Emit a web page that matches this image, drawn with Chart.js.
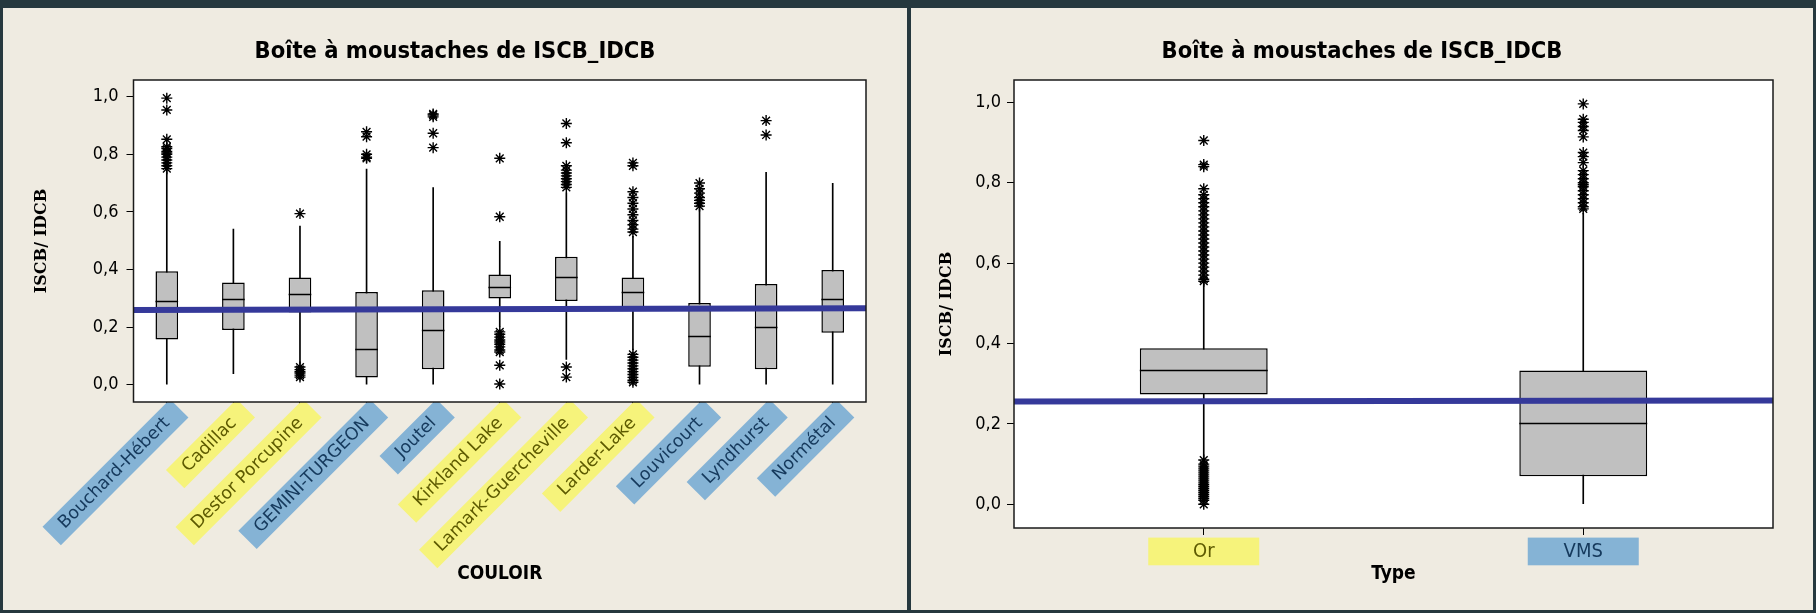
<!DOCTYPE html>
<html>
<head>
<meta charset="utf-8">
<script src="https://cdn.jsdelivr.net/npm/chart.js@4.4.0/dist/chart.umd.min.js"></script>
<style>
  html, body { margin: 0; padding: 0; }
  body { width: 1816px; height: 613px; background: #26383e; position: relative; overflow: hidden; }
  .panel { position: absolute; top: 8px; height: 602px; background: #efebe1; }
  #panelCouloir { left: 3px; width: 904px; }
  #panelType { left: 911px; width: 902px; }
  canvas { display: block; }
</style>
</head>
<body>
<div class="panel" id="panelCouloir"><canvas id="couloirChart" width="904" height="602"></canvas></div>
<div class="panel" id="panelType"><canvas id="typeChart" width="902" height="602"></canvas></div>
<script>
// --- left chart: ISCB/IDCB by couloir ---
const couloirs = ['Bouchard-Hébert', 'Cadillac', 'Destor Porcupine', 'GEMINI-TURGEON', 'Joutel',
  'Kirkland Lake', 'Lamark-Guercheville', 'Larder-Lake', 'Louvicourt', 'Lyndhurst', 'Normétal'];
const couloirType = ['VMS', 'Or', 'Or', 'VMS', 'VMS', 'Or', 'Or', 'Or', 'VMS', 'VMS', 'VMS'];
const couloirLow = [0.0, 0.038, 0.073, 0.0, 0.0, 0.20, 0.087, 0.12, 0.0, 0.0, 0.0];
const couloirQ1 = [0.157, 0.190, 0.250, 0.025, 0.053, 0.299, 0.290, 0.262, 0.062, 0.053, 0.180];
const couloirMedian = [0.290, 0.296, 0.316, 0.125, 0.191, 0.339, 0.372, 0.322, 0.169, 0.200, 0.296];
const couloirQ3 = [0.394, 0.355, 0.372, 0.322, 0.328, 0.382, 0.444, 0.372, 0.283, 0.349, 0.398];
const couloirHigh = [0.74, 0.54, 0.551, 0.749, 0.684, 0.498, 0.665, 0.515, 0.61, 0.737, 0.699];
const couloirOutliers = [
  [0.75, 0.76, 0.77, 0.78, 0.79, 0.80, 0.805, 0.81, 0.82, 0.826, 0.852, 0.954, 0.995],
  [],
  [0.594, 0.061, 0.052, 0.045, 0.04, 0.033, 0.026],
  [0.786, 0.79, 0.80, 0.861, 0.878],
  [0.823, 0.873, 0.93, 0.936, 0.94],
  [0.786, 0.583, 0.183, 0.175, 0.165, 0.155, 0.148, 0.14, 0.131, 0.12, 0.113, 0.067, 0.002],
  [0.907, 0.84, 0.76, 0.745, 0.735, 0.725, 0.715, 0.705, 0.695, 0.685, 0.061, 0.026],
  [0.77, 0.76, 0.67, 0.65, 0.63, 0.61, 0.59, 0.57, 0.555, 0.54, 0.53,
   0.105, 0.095, 0.085, 0.075, 0.065, 0.055, 0.045, 0.035, 0.025, 0.015, 0.008],
  [0.70, 0.68, 0.665, 0.65, 0.64, 0.63, 0.62],
  [0.917, 0.867],
  []
];
const seuilCouloir = [0.259, 0.265]; // blue reference line, left end / right end

// --- right chart: ISCB/IDCB by type ---
const types = ['Or', 'VMS'];
const typeLow = [0.114, 0.0];
const typeQ1 = [0.273, 0.070];
const typeMedian = [0.333, 0.203];
const typeQ3 = [0.388, 0.333];
const typeHigh = [0.549, 0.724];
const typeOutliers = [
  [0.905, 0.845, 0.84, 0.785, 0.77, 0.76, 0.75, 0.74, 0.73, 0.72, 0.71, 0.70, 0.69, 0.68, 0.67,
   0.66, 0.65, 0.64, 0.63, 0.62, 0.61, 0.60, 0.59, 0.58, 0.57, 0.56, 0.555,
   0.11, 0.10, 0.095, 0.09, 0.085, 0.08, 0.075, 0.07, 0.065, 0.06, 0.055, 0.05, 0.045, 0.04,
   0.035, 0.03, 0.025, 0.02, 0.015, 0.01, 0.0],
  [0.996, 0.958, 0.95, 0.94, 0.93, 0.914, 0.875, 0.865, 0.85, 0.83, 0.82, 0.81, 0.80, 0.795,
   0.79, 0.78, 0.77, 0.76, 0.75, 0.74, 0.735]
];
const seuilType = [0.2557, 0.258];

const yTicks = [0, 0.2, 0.4, 0.6, 0.8, 1.0];

const FONT = '"DejaVu Sans Condensed", "DejaVu Sans", sans-serif';
const typeColors = {
  Or: { bg: '#f6f37b', text: '#5d5a00' },
  VMS: { bg: '#85b3d5', text: '#15395c' }
};

function outlierPoints(labels, outliers) {
  const pts = [];
  outliers.forEach((list, i) => list.forEach(v => pts.push({ x: labels[i], y: v })));
  return pts;
}

// white plot area, label boxes, medians, blue line and frame
const boxPlotExtras = {
  id: 'boxPlotExtras',
  beforeDraw(chart, args, opts) {
    const { ctx, chartArea: a, scales: { x } } = chart;
    ctx.save();
    ctx.fillStyle = '#ffffff';
    ctx.fillRect(a.left, a.top, a.width, a.height);
    if (opts.labelBoxes) {
      const b = opts.labelBoxes;
      opts.kind.forEach((k, i) => {
        ctx.fillStyle = typeColors[k].bg;
        ctx.fillRect(x.getPixelForTick(i) - b.width / 2, a.bottom + b.offset, b.width, b.height);
      });
    }
    ctx.restore();
  },
  afterDatasetsDraw(chart, args, opts) {
    const { ctx, chartArea: a, scales: { y } } = chart;
    const boxMeta = chart.getDatasetMeta(1);
    ctx.save();
    ctx.strokeStyle = '#000';
    ctx.lineWidth = 1.5;
    opts.medians.forEach((m, i) => {
      const bar = boxMeta.data[i];
      const py = Math.round(y.getPixelForValue(m)) + 0.5;
      ctx.beginPath();
      ctx.moveTo(bar.x - bar.width / 2, py);
      ctx.lineTo(bar.x + bar.width / 2, py);
      ctx.stroke();
    });
    ctx.beginPath();
    ctx.rect(a.left, a.top, a.width, a.height);
    ctx.clip();
    ctx.strokeStyle = '#35399a';
    ctx.lineWidth = 6;
    ctx.beginPath();
    ctx.moveTo(a.left, y.getPixelForValue(opts.refLine[0]));
    ctx.lineTo(a.right, y.getPixelForValue(opts.refLine[1]));
    ctx.stroke();
    ctx.restore();
    ctx.save();
    ctx.strokeStyle = '#1a1a1a';
    ctx.lineWidth = 1.5;
    ctx.strokeRect(a.left, a.top, a.width, a.height);
    ctx.restore();
  }
};

function boxChart(canvasId, cfg) {
  const kindColor = (ctx, key) => typeColors[cfg.kind[ctx.index]][key];
  return new Chart(document.getElementById(canvasId), {
    type: 'bar',
    data: {
      labels: cfg.labels,
      datasets: [
        {
          data: cfg.labels.map((_, i) => [cfg.low[i], cfg.high[i]]),
          backgroundColor: '#000',
          barThickness: 1,
          grouped: false,
          order: 3
        },
        {
          data: cfg.labels.map((_, i) => [cfg.q1[i], cfg.q3[i]]),
          backgroundColor: '#c0c0c0',
          borderColor: '#000',
          borderWidth: 1.5,
          borderSkipped: false,
          grouped: false,
          categoryPercentage: 1,
          barPercentage: cfg.boxWidth,
          order: 2
        },
        {
          type: 'line',
          data: outlierPoints(cfg.labels, cfg.outliers),
          showLine: false,
          pointStyle: 'star',
          pointRadius: 5.5,
          pointBorderColor: '#000',
          pointBorderWidth: 1.4,
          order: 1
        }
      ]
    },
    options: {
      responsive: false,
      animation: false,
      layout: { padding: 0 },
      plugins: {
        legend: { display: false },
        tooltip: { enabled: false },
        title: {
          display: true,
          text: 'Boîte à moustaches de ISCB_IDCB',
          color: '#000',
          font: { family: FONT, size: 23.5, weight: 'bold' },
          padding: { top: 30, bottom: 13.8 }
        },
        boxPlotExtras: { medians: cfg.median, refLine: cfg.refLine, kind: cfg.kind, labelBoxes: cfg.labelBoxes }
      },
      scales: {
        x: {
          type: 'category',
          offset: true,
          grid: { offset: false, drawOnChartArea: false, color: '#000', tickLength: cfg.xTickLength },
          border: { display: false },
          ticks: {
            autoSkip: false,
            minRotation: cfg.rotation,
            maxRotation: cfg.rotation,
            padding: cfg.xTickPadding,
            labelOffset: cfg.xLabelOffset,
            font: { family: cfg.xFont, size: cfg.xFontSize },
            color: ctx => kindColor(ctx, 'text'),
            showLabelBackdrop: !cfg.labelBoxes,
            backdropColor: ctx => kindColor(ctx, 'bg'),
            backdropPadding: { top: 2.5, bottom: 2.5, left: 14, right: 17 }
          },
          title: {
            display: true,
            text: cfg.xTitle,
            color: '#000',
            font: { family: FONT, size: 19, weight: 'bold' },
            padding: { top: 0, bottom: 25 }
          },
          afterFit: s => { s.height = cfg.xAxisHeight; }
        },
        y: {
          min: cfg.yMin,
          max: cfg.yMax,
          afterBuildTicks: s => { s.ticks = yTicks.map(v => ({ value: v })); },
          grid: { drawOnChartArea: false, color: '#000', tickLength: 7 },
          border: { display: false },
          ticks: {
            padding: cfg.yTickPadding,
            color: '#000',
            font: { family: FONT, size: 18 },
            callback: v => v.toFixed(1).replace('.', ',')
          },
          title: {
            display: true,
            text: 'ISCB/ IDCB',
            color: '#000',
            font: { family: '"DejaVu Serif", serif', size: 16, weight: 'bold' },
            padding: { top: cfg.yTitleOffset }
          },
          afterFit: s => { s.width = cfg.yAxisWidth; }
        },
        pad: {
          type: 'linear',
          position: 'right',
          display: true,
          grid: { display: false },
          border: { display: false },
          ticks: { display: false },
          afterFit: s => { s.width = cfg.rightGap; }
        }
      }
    },
    plugins: [boxPlotExtras]
  });
}

boxChart('couloirChart', {
  labels: couloirs, kind: couloirType,
  low: couloirLow, q1: couloirQ1, median: couloirMedian, q3: couloirQ3, high: couloirHigh,
  outliers: couloirOutliers, refLine: seuilCouloir,
  boxWidth: 0.34, yMin: -0.0605, yMax: 1.058,
  rotation: 45, xFont: '"DejaVu Sans", sans-serif', xFontSize: 17.5, xTickLength: 5, xTickPadding: 6,
  xLabelOffset: -7,
  xTitle: 'COULOIR', xAxisHeight: 208, yAxisWidth: 130.5, yTickPadding: 8, yTitleOffset: 29, rightGap: 41
});

boxChart('typeChart', {
  labels: types, kind: types,
  low: typeLow, q1: typeQ1, median: typeMedian, q3: typeQ3, high: typeHigh,
  outliers: typeOutliers, refLine: seuilType,
  boxWidth: 0.337, yMin: -0.059, yMax: 1.0555,
  rotation: 0, xFont: FONT, xFontSize: 20, xTickLength: 7, xTickPadding: 4.3, xLabelOffset: 0,
  labelBoxes: { width: 111, offset: 9.6, height: 27.7 },
  xTitle: 'Type', xAxisHeight: 82, yAxisWidth: 103, yTickPadding: 6, yTitleOffset: 26, rightGap: 40
});
</script>
</body>
</html>
